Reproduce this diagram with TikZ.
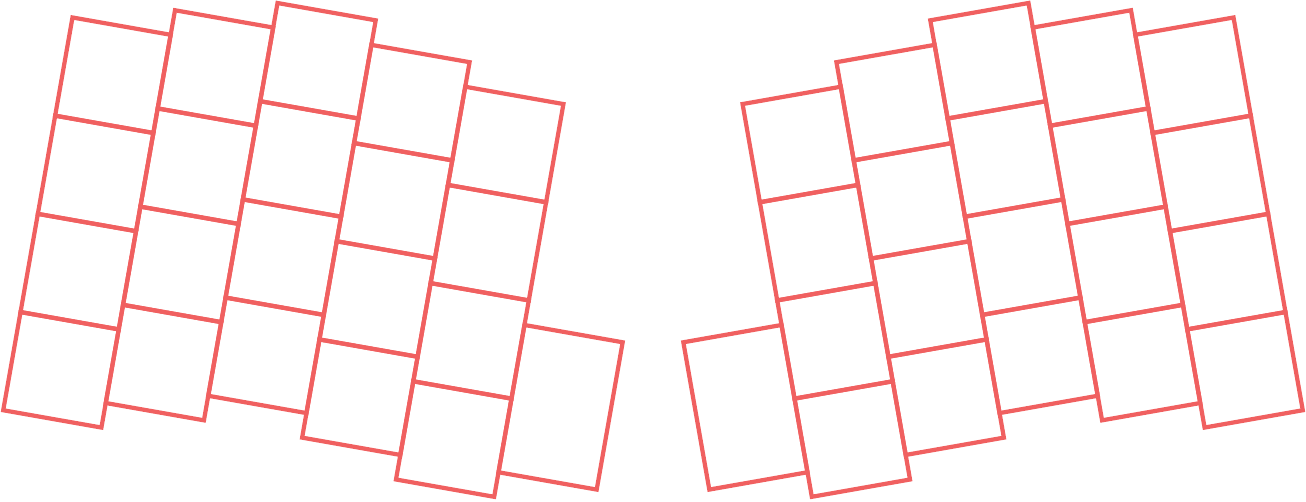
\documentclass[tikz,border=0pt]{standalone}
\usepackage{tikz}
\definecolor{keyred}{RGB}{240,96,96}
\tikzset{keycap/.style={draw=keyred, line width=1.2pt}}
\newcommand{\keyhalf}{%
  \begin{scope}[shift={(0.727,-0.1755)}, rotate=-10]
    \foreach \col/\up in {0/0, 1/0.25, 2/0.5, 3/0.25, 4/0} {
      \foreach \row in {0,...,3} {
        \draw[keycap] (\col,\up-\row) rectangle ++(1,-1);
      }
    }
    \draw[keycap] (5,-2.25) rectangle ++(1,-1.5);
  \end{scope}}

\begin{document}
\begin{tikzpicture}
  \useasboundingbox (0,0) rectangle (13.099,-5.035);
  \keyhalf
  \begin{scope}[xshift=13.099cm, xscale=-1]
    \keyhalf
  \end{scope}
\end{tikzpicture}
\end{document}
